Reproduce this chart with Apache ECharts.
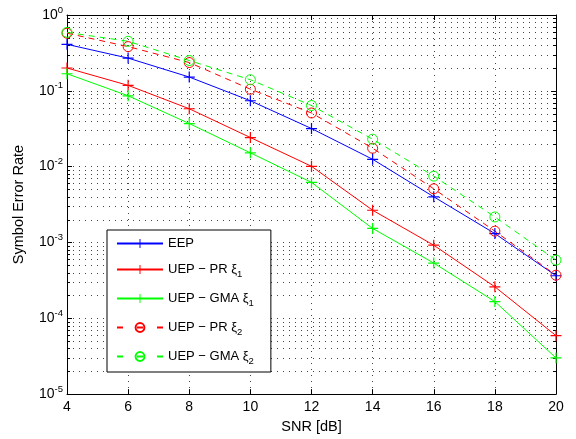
<!DOCTYPE html>
<html>
<head>
<meta charset="utf-8">
<script src="https://cdn.jsdelivr.net/npm/echarts@6/dist/echarts.min.js"></script>
<style>
  html, body { margin: 0; padding: 0; background: #fff; }
  #chart { width: 576px; height: 439px; }
</style>
</head>
<body>
<div id="chart"></div>
<script>
// SNR sweep (dB) and symbol error rates per scheme
const snr = [4, 6, 8, 10, 12, 14, 16, 18, 20];
const eep      = [0.41, 0.27, 0.152, 0.074, 0.0318, 0.0125, 0.0040, 0.00131, 0.000364];
const uepPr1   = [0.20, 0.118, 0.058, 0.0242, 0.0101, 0.00266, 0.00092, 0.00026, 0.000059];
const uepGma1  = [0.168, 0.086, 0.037, 0.0152, 0.0062, 0.00153, 0.000535, 0.000166, 0.000030];
const uepPr2   = [0.575, 0.383, 0.236, 0.105, 0.051, 0.0175, 0.0051, 0.00141, 0.00037];
const uepGma2  = [0.59, 0.45, 0.251, 0.14, 0.064, 0.0230, 0.0075, 0.00217, 0.000585];

const names = ['EEP', 'UEP − PR ξ_1', 'UEP − GMA ξ_1', 'UEP − PR ξ_2', 'UEP − GMA ξ_2'];
const colors = ['#0000ff', '#ff0000', '#00ff00', '#ff0000', '#00ff00'];
const xTicks = [4, 6, 8, 10, 12, 14, 16, 18, 20];
const decades = [-5, -4, -3, -2, -1];
const mantissas = [2, 3, 4, 5, 6, 7, 8, 9];

const FONT = "'Liberation Sans', Arial, Helvetica, sans-serif";
const plus = 'path://M4.45,0H5.55V4.45H10V5.55H5.55V10H4.45V5.55H0V4.45H4.45Z';
const DOT = [1, 5];
const GRID_COLOR = '#444';

// minor log ticks 2..9 within every decade
const minorVals = [];
decades.forEach(e => mantissas.forEach(m => minorVals.push([4, m * Math.pow(10, e)])));

function pairs(ys) { return snr.map((x, i) => [x, ys[i]]); }

function solid(name, ys, color) {
  return {
    name, type: 'line', data: pairs(ys),
    symbol: plus, symbolSize: 11,
    lineStyle: { color, width: 1 },
    itemStyle: { color },
    emphasis: { disabled: true },
    z: 3
  };
}
function dashed(name, ys, color) {
  return {
    name, type: 'line', data: pairs(ys),
    symbol: 'circle', symbolSize: 10,
    lineStyle: { color, width: 1, type: [6, 5] },
    itemStyle: { color: 'rgba(0,0,0,0)', borderColor: color, borderWidth: 1 },
    emphasis: { disabled: true },
    z: 3
  };
}

// dotted minor grid lines plus inward minor ticks on both y edges
const minorGrid = {
  type: 'custom', name: 'minor', silent: true, z: 1,
  data: minorVals,
  renderItem: (params, api) => {
    const cs = params.coordSys;
    const p = api.coord([api.value(0), api.value(1)]);
    const y = Math.round(p[1]) + 0.5;
    const x0 = cs.x, x1 = cs.x + cs.width;
    return {
      type: 'group',
      children: [
        { type: 'line', shape: { x1: x0, y1: y, x2: x1, y2: y },
          style: { stroke: GRID_COLOR, lineWidth: 1, lineDash: DOT } },
        { type: 'line', shape: { x1: x0, y1: y, x2: x0 + 3, y2: y },
          style: { stroke: '#000', lineWidth: 1 } },
        { type: 'line', shape: { x1: x1 - 3, y1: y, x2: x1, y2: y },
          style: { stroke: '#000', lineWidth: 1 } }
      ]
    };
  }
};

const gridDots = { show: true, lineStyle: { color: GRID_COLOR, width: 1, type: DOT } };

// legend entries; dashed ones get a short three-dash sample
const legendData = names.map((n, i) => i < 3 ? { name: n }
  : { name: n, lineStyle: { type: [6, 14, 6, 14] } });

const chart = echarts.init(document.getElementById('chart'), null, { renderer: 'canvas' });
chart.setOption({
  animation: false,
  backgroundColor: '#fff',
  textStyle: { fontFamily: FONT },
  grid: { left: 67, top: 15, right: 20, bottom: 43, containLabel: false },
  xAxis: [{
    type: 'value', min: 4, max: 20, interval: 2,
    name: 'SNR [dB]', nameLocation: 'middle', nameGap: 24,
    nameTextStyle: { color: '#000', fontSize: 14.5, fontFamily: FONT },
    axisLine: { onZero: false, lineStyle: { color: '#000', width: 1 } },
    axisTick: { inside: true, length: 5, lineStyle: { color: '#000' } },
    axisLabel: { color: '#000', fontSize: 14, margin: 6, fontFamily: FONT,
      formatter: v => xTicks.includes(v) ? String(v) : '' },
    splitLine: gridDots
  }, {
    type: 'value', min: 4, max: 20, interval: 2, position: 'top',
    axisLine: { onZero: false, lineStyle: { color: '#000', width: 1 } },
    axisTick: { inside: true, length: 5, lineStyle: { color: '#000' } },
    axisLabel: { show: false }, splitLine: { show: false }
  }],
  yAxis: [{
    type: 'log', logBase: 10, min: 1e-5, max: 1,
    name: 'Symbol Error Rate', nameLocation: 'middle', nameGap: 41,
    nameTextStyle: { color: '#000', fontSize: 14.5, fontFamily: FONT },
    axisLine: { lineStyle: { color: '#000', width: 1 } },
    axisTick: { inside: true, length: 5, lineStyle: { color: '#000' } },
    axisLabel: {
      margin: 4, fontFamily: FONT,
      formatter: v => '{b|10}{e|' + Math.round(Math.log10(v)) + '}',
      rich: {
        b: { fontSize: 14, color: '#000', fontFamily: FONT },
        e: { fontSize: 9.5, color: '#000', fontFamily: FONT, padding: [0, 0, 10, 0] }
      }
    },
    splitLine: gridDots
  }, {
    type: 'log', logBase: 10, min: 1e-5, max: 1, position: 'right',
    axisLine: { lineStyle: { color: '#000', width: 1 } },
    axisTick: { inside: true, length: 5, lineStyle: { color: '#000' } },
    axisLabel: { show: false }, splitLine: { show: false }
  }],
  legend: {
    orient: 'vertical', left: 107, top: 230,
    backgroundColor: '#fff', borderColor: '#000', borderWidth: 1,
    padding: [7, 17, 6, 9],
    itemWidth: 46, itemHeight: 11, itemGap: 13,
    selectedMode: false,
    data: legendData,
    formatter: name => {
      const m = name.match(/^(.*)_(\d)$/);
      return m ? '{t|' + m[1] + '}{s|' + m[2] + '}' : '{t|' + name + '}';
    },
    textStyle: {
      fontFamily: FONT,
      rich: {
        t: { fontSize: 13, color: '#000', fontFamily: FONT },
        s: { fontSize: 9.5, color: '#000', fontFamily: FONT, padding: [9, 0, 0, 0] }
      }
    }
  },
  series: [
    minorGrid,
    solid(names[0], eep, colors[0]),
    solid(names[1], uepPr1, colors[1]),
    solid(names[2], uepGma1, colors[2]),
    dashed(names[3], uepPr2, colors[3]),
    dashed(names[4], uepGma2, colors[4])
  ]
});
</script>
</body>
</html>
